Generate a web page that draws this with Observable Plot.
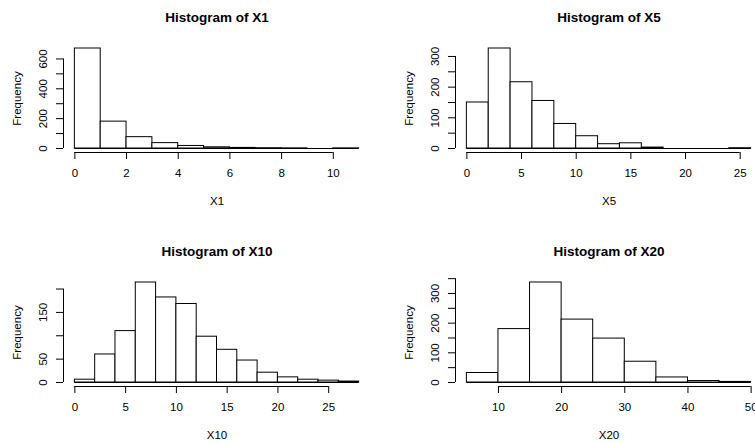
<!DOCTYPE html>
<html>
<head>
<meta charset="utf-8">
<script src="https://cdn.jsdelivr.net/npm/d3@7"></script>
<script src="https://cdn.jsdelivr.net/npm/@observablehq/plot@0.6"></script>
<style>
html, body { margin: 0; padding: 0; background: #fff; }
#chart { position: relative; width: 755px; height: 443px; overflow: hidden; background: #fff; }
#chart svg { position: absolute; left: 0; top: 0; }
</style>
</head>
<body>
<div id="chart"></div>
<script>
// ---- data ----
const x1Breaks = [0, 1, 2, 3, 4, 5, 6, 7, 8, 9, 10, 11];
const x1Counts = [670, 180, 76, 36, 17, 8, 4, 2, 1, 0, 1];
const x1XTicks = [0, 2, 4, 6, 8, 10];
const x1YTicks = [0, 100, 200, 300, 400, 500, 600];
const x1YLabels = [0, 200, 400, 600];

const x5Breaks = [0, 2, 4, 6, 8, 10, 12, 14, 16, 18, 20, 22, 24, 26];
const x5Counts = [150, 326, 216, 155, 80, 40, 14, 17, 3, 0, 0, 0, 1];
const x5XTicks = [0, 5, 10, 15, 20, 25];
const x5YTicks = [0, 50, 100, 150, 200, 250, 300];
const x5YLabels = [0, 100, 200, 300];

const x10Breaks = [0, 2, 4, 6, 8, 10, 12, 14, 16, 18, 20, 22, 24, 26, 28];
const x10Counts = [6, 60, 110, 214, 182, 168, 98, 70, 47, 21, 11, 6, 4, 2];
const x10XTicks = [0, 5, 10, 15, 20, 25];
const x10YTicks = [0, 50, 100, 150, 200];
const x10YLabels = [0, 50, 150];

const x20Breaks = [5, 10, 15, 20, 25, 30, 35, 40, 45, 50];
const x20Counts = [32, 180, 337, 212, 148, 70, 17, 5, 2];
const x20XTicks = [10, 20, 30, 40, 50];
const x20YTicks = [0, 50, 100, 150, 200, 250, 300, 350];
const x20YLabels = [0, 100, 200, 300];

const panels = [
  {name: "X1", breaks: x1Breaks, counts: x1Counts, xTicks: x1XTicks, yTicks: x1YTicks, yLabels: x1YLabels, col: 0, row: 0},
  {name: "X5", breaks: x5Breaks, counts: x5Counts, xTicks: x5XTicks, yTicks: x5YTicks, yLabels: x5YLabels, col: 1, row: 0},
  {name: "X10", breaks: x10Breaks, counts: x10Counts, xTicks: x10XTicks, yTicks: x10YTicks, yLabels: x10YLabels, col: 0, row: 1},
  {name: "X20", breaks: x20Breaks, counts: x20Counts, xTicks: x20XTicks, yTicks: x20YTicks, yLabels: x20YLabels, col: 1, row: 1}
];

// ---- layout ----
const W = 780, H = 443;
const cols = [[63, 370], [455, 762]];
const rows = [[44, 152], [278, 386]];
const FONT = "'Liberation Sans', Arial, Helvetica, sans-serif";
const chart = document.getElementById("chart");

for (const p of panels) {
  const [left, right] = cols[p.col];
  const [top, bottom] = rows[p.row];
  const lo = p.breaks[0], hi = p.breaks[p.breaks.length - 1];
  const ymax = d3.max(p.counts);
  const xd = [lo - 0.04 * (hi - lo), hi + 0.04 * (hi - lo)];
  const yd = [-0.04 * ymax, 1.04 * ymax];
  const bins = p.counts.map((c, i) => ({x1: p.breaks[i], x2: p.breaks[i + 1], count: c}));

  const svg = Plot.plot({
    width: W,
    height: H,
    marginLeft: left,
    marginRight: W - right,
    marginTop: top,
    marginBottom: H - bottom,
    style: {fontFamily: FONT, background: "transparent", color: "#000", maxWidth: "none", overflow: "visible"},
    x: {domain: xd},
    y: {domain: yd},
    marks: [
      Plot.rect(bins, {x1: "x1", x2: "x2", y1: 0, y2: "count", fill: "white", stroke: "black", strokeWidth: 1}),
      Plot.ruleY([0], {x1: lo, x2: hi, stroke: "black"}),
      // x axis
      Plot.ruleY([yd[0]], {x1: p.xTicks[0], x2: p.xTicks[p.xTicks.length - 1], stroke: "black"}),
      Plot.axisX({ticks: p.xTicks, tickSize: 7, tickFormat: () => "", label: null, stroke: "black"}),
      Plot.text(p.xTicks, {x: d => d, frameAnchor: "bottom", dy: 20.8, text: d => String(d),
        textAnchor: "middle", lineAnchor: "middle", fontSize: 11.5}),
      Plot.text([p.name], {frameAnchor: "bottom", dy: 48.5, text: d => d,
        textAnchor: "middle", lineAnchor: "middle", fontSize: 11.5}),
      // y axis
      Plot.ruleX([xd[0]], {y1: p.yTicks[0], y2: p.yTicks[p.yTicks.length - 1], stroke: "black"}),
      Plot.axisY({ticks: p.yTicks, tickSize: 7, tickFormat: () => "", label: null, stroke: "black"}),
      Plot.text(p.yLabels, {y: d => d, frameAnchor: "left", dx: -20, rotate: -90, text: d => String(d),
        textAnchor: "middle", lineAnchor: "middle", fontSize: 11.5}),
      Plot.text(["Frequency"], {frameAnchor: "left", dx: -46.5, rotate: -90, text: d => d,
        textAnchor: "middle", lineAnchor: "middle", fontSize: 11.5}),
      // title
      Plot.text(["Histogram of " + p.name], {frameAnchor: "top", dy: -26.5, text: d => d,
        textAnchor: "middle", lineAnchor: "middle", fontSize: 13.5, fontWeight: "bold"})
    ]
  });
  chart.appendChild(svg);
}
</script>
</body>
</html>
